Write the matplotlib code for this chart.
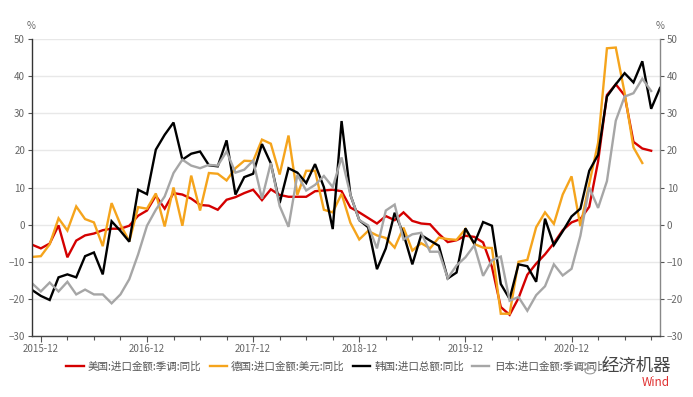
import numpy as np
import matplotlib
matplotlib.use("Agg")
import matplotlib.pyplot as plt
from matplotlib.patches import Ellipse, Circle

plt.rcParams['font.family'] = ['Noto Sans CJK SC', 'DejaVu Sans']

# monthly data, first month 2015-11, last 2021-10
start_year, start_month = 2015, 11
n_months = 72

us = [-5.4, -6.4, -5.1, -0.2, -8.8, -4.3, -2.9, -2.4, -1.5, -1.1, -1.1, -0.3,
      2.4, 3.8, 7.8, 4.3, 8.5, 8.1, 7.0, 5.3, 5.1, 4.0, 6.7, 7.4,
      8.5, 9.4, 6.6, 9.5, 8.0, 7.5, 7.5, 7.5, 9.0, 9.2, 9.4, 9.0,
      4.6, 3.3, 1.8, 0.3, 2.3, 1.2, 3.3, 1.0, 0.3, 0.1, -2.5, -4.7,
      -4.2, -3.0, -3.3, -4.8, -11.4, -22.2, -24.3, -19.8, -13.5, -10.5, -8.0, -5.0,
      -1.5, 0.6, 1.5, 4.8, 17.0, 34.9, 37.8, 34.8, 22.3, 20.5, 19.9]

germany = [-8.7, -8.5, -5.3, 1.7, -1.6, 4.9, 1.5, 0.6, -5.8, 5.8, 0.0, -4.5,
           4.7, 4.3, 8.4, -0.5, 10.0, -0.3, 13.2, 3.8, 13.9, 13.7, 11.9, 15.2,
           17.2, 17.1, 22.9, 21.8, 13.5, 24.0, 8.0, 14.5, 14.5, 4.0, 3.3, 8.3,
           0.5, -4.0, -1.7, -2.9, -3.6, -6.2, -0.8, -7.0, -5.0, -6.4, -3.5, -3.9,
           -4.1, -1.2, -5.2, -6.2, -6.3, -24.0, -24.0, -10.0, -9.5, -0.7, 3.3, 0.2,
           8.1, 13.0, -0.4, 11.0, 22.0, 47.5, 47.7, 35.5, 20.8, 16.6]

korea = [-17.6, -19.2, -20.3, -14.2, -13.4, -14.2, -8.5, -7.5, -13.4, 0.9, -1.7, -4.6,
         9.4, 8.2, 20.2, 24.2, 27.5, 17.5, 19.1, 19.7, 16.0, 15.7, 22.7, 8.1,
         12.8, 13.7, 21.7, 16.5, 5.8, 15.2, 14.0, 11.2, 16.3, 10.1, -1.2, 27.9,
         8.0, 1.2, -0.7, -12.0, -6.4, 3.2, -2.5, -10.7, -2.8, -4.3, -5.7, -14.5,
         -12.9, -1.0, -5.1, 0.7, -0.3, -16.0, -20.0, -10.7, -11.2, -15.4, 1.6, -5.5,
         -1.8, 2.2, 4.3, 14.5, 18.8, 34.5, 37.8, 40.8, 38.3, 44.0, 31.2, 36.8]

japan = [-15.8, -18.0, -15.6, -18.0, -15.4, -18.8, -17.5, -18.8, -18.8, -21.2, -18.8, -14.7,
         -8.0, -0.3, 4.0, 7.6, 13.9, 17.5, 15.9, 15.2, 16.1, 15.9, 19.7, 14.0,
         14.8, 17.2, 7.0, 16.6, 5.0, -0.6, 13.4, 9.2, 10.7, 13.1, 10.1, 18.1,
         8.0, 1.2, -0.2, -6.4, 3.8, 5.4, -4.0, -2.6, -2.2, -7.3, -7.3, -14.4,
         -11.0, -8.8, -5.6, -13.8, -9.6, -8.6, -20.5, -19.5, -23.2, -19.0, -16.6, -10.7,
         -13.7, -11.9, -3.0, 10.0, 4.5, 11.7, 28.0, 34.5, 35.4, 39.3, 36.0]

labels = ['美国:进口金额:季调:同比', '德国:进口金额:美元:同比',
          '韩国:进口总额:同比', '日本:进口金额:季调:同比']
colors = ['#d40000', '#f5a41c', '#000000', '#a6a6a6']
yticks = [-30, -20, -10, 0, 10, 20, 30, 40, 50]

# month index -> label
def month_label(i):
    m = start_month - 1 + i
    return f"{start_year + m // 12}-{m % 12 + 1:02d}"

major = [i for i in range(n_months) if (start_month - 1 + i) % 12 == 11]
minor = [i for i in range(n_months) if (start_month - 1 + i) % 3 == 2]

fig = plt.figure(figsize=(6.93, 3.97), dpi=100)
ax = fig.add_axes([32 / 693, 1 - 336 / 397, 628 / 693, 297 / 397])

for series, name, c in zip([us, germany, korea, japan], labels, colors):
    ax.plot(np.arange(len(series)), series, color=c, lw=1.7, label=name,
            solid_joinstyle='miter')

ax.set_xlim(0, n_months - 1)
ax.set_ylim(-30, 50)
ax.set_yticks(yticks)
ax.yaxis.grid(True, color='#e8e8e8', lw=1)
ax.set_axisbelow(True)

ax.set_xticks(major)
ax.set_xticklabels([month_label(i) for i in major])
ax.set_xticks(minor, minor=True)

ax.tick_params(axis='y', left=True, right=True, labelleft=True, labelright=True,
               length=3, width=0.8, color='#555555', labelsize=7,
               labelcolor='#666666', pad=2)
ax.tick_params(axis='x', which='major', length=4, width=0.8, color='#555555',
               labelsize=7, labelcolor='#666666', pad=2)
ax.tick_params(axis='x', which='minor', length=3, width=0.8, color='#555555')

ax.spines['top'].set_visible(False)
ax.spines['left'].set_color('#333333')
ax.spines['bottom'].set_color('#444444')
ax.spines['right'].set_color('#888888')
for s in ['left', 'bottom', 'right']:
    ax.spines[s].set_linewidth(1)

fig.text(31 / 693, 1 - 26 / 397, '%', fontsize=7, color='#666666', ha='center', va='center')
fig.text(660 / 693, 1 - 26 / 397, '%', fontsize=7, color='#666666', ha='center', va='center')

fig.legend(loc='center', bbox_to_anchor=(0.486, 1 - 367 / 397), ncol=4, frameon=False,
           fontsize=7.6, labelcolor='#555555', handlelength=1.65, handletextpad=0.4,
           columnspacing=0.75)

# watermark: wechat-like icon with white halo, then the name
fig.patches.append(Ellipse((586 / 693, 1 - 368 / 397), 30 / 693, 24 / 397,
                           transform=fig.transFigure, facecolor='white',
                           edgecolor='none', alpha=0.85, zorder=5))
fig.patches.append(Circle((582 / 693, 1 - 366 / 397), 6 / 693,
                          transform=fig.transFigure, facecolor='none',
                          edgecolor='#999999', lw=0.8, zorder=6))
fig.patches.append(Circle((590 / 693, 1 - 371 / 397), 5 / 693,
                          transform=fig.transFigure, facecolor='none',
                          edgecolor='#999999', lw=0.8, zorder=6))
fig.text(671 / 693, 1 - 366 / 397, '经济机器', fontsize=12.5, color='#444444',
         ha='right', va='center', zorder=7)
fig.text(670 / 693, 1 - 382 / 397, 'Wind', fontsize=8.5, color='#e03030',
         ha='right', va='center', zorder=7)

fig.savefig('out.png', dpi=100)
